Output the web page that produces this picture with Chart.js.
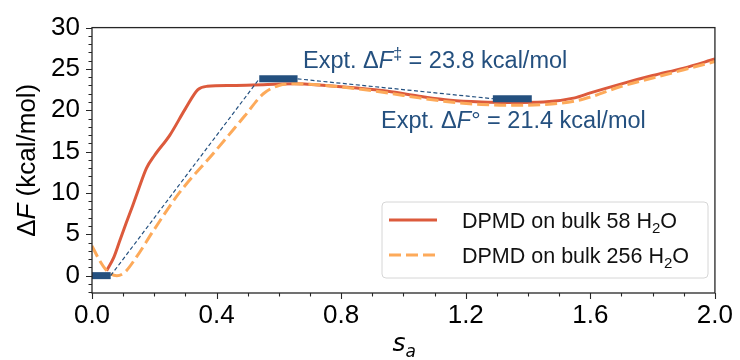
<!DOCTYPE html>
<html>
<head>
<meta charset="utf-8">
<script src="https://cdn.jsdelivr.net/npm/chart.js@4.4.1/dist/chart.umd.min.js"></script>
<style>
  html, body { margin: 0; padding: 0; background: #ffffff; }
  #wrap { width: 740px; height: 360px; position: relative; }
</style>
</head>
<body>
<div id="wrap"><canvas id="c" width="740" height="360"></canvas></div>
<script>
// ---------------- data ----------------
const s58 = [0.047, 0.07, 0.09, 0.11, 0.13, 0.15, 0.175, 0.2, 0.25, 0.30, 0.34, 0.37, 0.45, 0.55, 0.65, 0.75, 0.85, 0.95, 1.05, 1.15, 1.25, 1.35, 1.45, 1.55, 1.6, 1.7, 1.8, 1.9, 2.0];
const f58 = [0.6, 2.2, 4.3, 6.4, 8.4, 10.5, 13.0, 14.5, 17.0, 20.2, 22.5, 22.9, 23.0, 23.1, 23.2, 23.0, 22.7, 22.3, 21.7, 21.2, 21.0, 20.95, 21.0, 21.5, 22.1, 23.2, 24.2, 25.1, 26.2];

const s256 = [0.0, 0.025, 0.05, 0.08, 0.105, 0.14, 0.2, 0.28, 0.39, 0.49, 0.55, 0.6, 0.65, 0.75, 0.85, 0.95, 1.05, 1.15, 1.25, 1.35, 1.45, 1.55, 1.6, 1.7, 1.8, 1.9, 2.0];
const f256 = [3.6, 1.8, 0.5, 0.0, 0.4, 2.1, 5.6, 10.0, 14.8, 19.3, 22.0, 23.0, 23.2, 23.0, 22.6, 22.1, 21.5, 21.0, 20.7, 20.6, 20.7, 21.1, 21.6, 22.9, 23.9, 24.9, 25.9];

const exptLevel = [0, 23.8, 21.4];
const exptStart = [0.0, 0.537, 1.287];
const exptEnd   = [0.06, 0.66, 1.412];

const seriesLabels = ["DPMD on bulk 58 H", "DPMD on bulk 256 H"];
const xTickValues = [0.0, 0.4, 0.8, 1.2, 1.6, 2.0];
const yTickValues = [0, 5, 10, 15, 20, 25, 30];
const annoBarrier = { value: "23.8", unit: " kcal/mol" };
const annoReaction = { value: "21.4", unit: " kcal/mol" };

// ---------------- styles ----------------
const C58 = "#dc5a3c";
const C256 = "#fdaa5a";
const CBLUE = "#24507f";
const FONT = "'Liberation Sans', Arial, sans-serif";

const toXY = (xs, ys) => xs.map((x, i) => ({ x: x, y: ys[i] }));

const datasets = [];
datasets.push({ label: seriesLabels[0], data: toXY(s58, f58), borderColor: C58, borderWidth: 3,
  pointRadius: 0, cubicInterpolationMode: 'monotone', fill: false, order: 3 });
datasets.push({ label: seriesLabels[1], data: toXY(s256, f256), borderColor: C256, borderWidth: 3,
  borderDash: [12, 5], pointRadius: 0, cubicInterpolationMode: 'monotone', fill: false, order: 2 });
for (let i = 0; i < exptLevel.length; i++) {
  datasets.push({ label: 'expt' + i, data: [{ x: exptStart[i], y: exptLevel[i] }, { x: exptEnd[i], y: exptLevel[i] }],
    borderColor: CBLUE, borderWidth: 7, borderCapStyle: 'butt', pointRadius: 0, fill: false, order: 0, clip: false });
}
for (let i = 0; i < exptLevel.length - 1; i++) {
  datasets.push({ label: 'link' + i, data: [{ x: exptEnd[i], y: exptLevel[i] }, { x: exptStart[i + 1], y: exptLevel[i + 1] }],
    borderColor: CBLUE, borderWidth: 1.2, borderDash: [4, 2.5], pointRadius: 0, fill: false, order: 1 });
}

function drawMixed(ctx, parts, x, y) {
  let cx = x;
  for (const p of parts) {
    ctx.font = p.font;
    ctx.fillText(p.t, cx, y + (p.dy || 0));
    cx += ctx.measureText(p.t).width;
  }
  return cx;
}

const decor = {
  id: 'decor',
  afterDatasetsDraw(chart) {
    const ctx = chart.ctx;
    const a = chart.chartArea;
    const xs = chart.scales.x, ys = chart.scales.y;
    ctx.save();
    // frame
    ctx.strokeStyle = '#262626';
    ctx.lineWidth = 1.3;
    ctx.strokeRect(a.left, a.top, a.right - a.left, a.bottom - a.top);
    // ticks
    ctx.beginPath();
    for (let v = 0; v <= 20; v++) {
      const px = Math.round(xs.getPixelForValue(v / 10)) + 0.5;
      const len = (v % 4 === 0) ? 6 : 3.5;
      ctx.moveTo(px, a.bottom); ctx.lineTo(px, a.bottom + len);
    }
    for (let v = -2; v <= 30; v++) {
      const py = Math.round(ys.getPixelForValue(v)) + 0.5;
      const len = (v % 5 === 0) ? 6 : 3.5;
      ctx.moveTo(a.left, py); ctx.lineTo(a.left - len, py);
    }
    ctx.lineWidth = 1.1;
    ctx.stroke();

    // annotations
    ctx.fillStyle = CBLUE;
    ctx.textBaseline = 'alphabetic';
    const nf = "23.5px " + FONT, itf = "italic 23.5px " + FONT, sf = "16px " + FONT;
    drawMixed(ctx, [
      { t: "Expt. \u0394", font: nf }, { t: "F", font: itf }, { t: "\u2021", font: sf, dy: -9 },
      { t: " = " + annoBarrier.value + annoBarrier.unit, font: nf }
    ], 303, 68);
    drawMixed(ctx, [
      { t: "Expt. \u0394", font: nf }, { t: "F", font: itf }, { t: "\u00b0", font: nf },
      { t: " = " + annoReaction.value + annoReaction.unit, font: nf }
    ], 381, 128);

    // legend
    const lx = 382, ly = 202, lw = 326, lh = 76, r = 4;
    ctx.beginPath();
    ctx.moveTo(lx + r, ly); ctx.lineTo(lx + lw - r, ly); ctx.arcTo(lx + lw, ly, lx + lw, ly + r, r);
    ctx.lineTo(lx + lw, ly + lh - r); ctx.arcTo(lx + lw, ly + lh, lx + lw - r, ly + lh, r);
    ctx.lineTo(lx + r, ly + lh); ctx.arcTo(lx, ly + lh, lx, ly + lh - r, r);
    ctx.lineTo(lx, ly + r); ctx.arcTo(lx, ly, lx + r, ly, r);
    ctx.closePath();
    ctx.fillStyle = 'rgba(255,255,255,0.8)';
    ctx.fill();
    ctx.strokeStyle = '#d6d6d6';
    ctx.lineWidth = 1;
    ctx.stroke();
    const rows = [{ y: 220, color: C58, dash: [] }, { y: 255, color: C256, dash: [12, 5] }];
    rows.forEach((row, i) => {
      ctx.beginPath();
      ctx.setLineDash(row.dash);
      ctx.strokeStyle = row.color;
      ctx.lineWidth = 3;
      ctx.moveTo(389, row.y); ctx.lineTo(437, row.y);
      ctx.stroke();
      ctx.setLineDash([]);
      ctx.fillStyle = '#111111';
      drawMixed(ctx, [
        { t: seriesLabels[i], font: "21.5px " + FONT }, { t: "2", font: "15px " + FONT, dy: 5 },
        { t: "O", font: "21.5px " + FONT }
      ], 462, row.y + 8);
    });

    // axis titles
    ctx.fillStyle = '#000000';
    ctx.font = "italic 25px 'DejaVu Sans', sans-serif";
    const sw = ctx.measureText("s").width;
    const sx = (a.left + a.right) / 2 - 11;
    ctx.fillText("s", sx, 351);
    ctx.font = "italic 17px 'DejaVu Sans', sans-serif";
    ctx.fillText("a", sx + sw, 357);

    ctx.save();
    ctx.translate(35, (a.top + a.bottom) / 2);
    ctx.rotate(-Math.PI / 2);
    const parts = [{ t: "\u0394", font: "26px " + FONT }, { t: "F", font: "italic 26px " + FONT },
                   { t: " (kcal/mol)", font: "26px " + FONT }];
    let tw = 0;
    parts.forEach(p => { ctx.font = p.font; tw += ctx.measureText(p.t).width; });
    drawMixed(ctx, parts, -tw / 2, 0);
    ctx.restore();

    ctx.restore();
  }
};

new Chart(document.getElementById('c'), {
  type: 'line',
  data: { datasets: datasets },
  options: {
    responsive: false,
    devicePixelRatio: 1,
    animation: false,
    layout: { padding: { top: 24, right: 20, left: 0, bottom: 0 } },
    plugins: { legend: { display: false }, tooltip: { enabled: false } },
    scales: {
      x: {
        type: 'linear', min: 0, max: 2,
        afterBuildTicks: s => { s.ticks = xTickValues.map(v => ({ value: v })); },
        afterFit: s => { s.height = 67; },
        grid: { display: false, drawTicks: false },
        border: { display: false },
        ticks: { font: { family: FONT, size: 26 }, color: '#000', padding: 7, maxRotation: 0, autoSkip: false,
                 callback: v => Number(v).toFixed(1) }
      },
      y: {
        type: 'linear', min: -2.1, max: 30,
        afterBuildTicks: s => { s.ticks = yTickValues.map(v => ({ value: v })); },
        afterFit: s => { s.width = 92; },
        grid: { display: false, drawTicks: false },
        border: { display: false },
        ticks: { font: { family: FONT, size: 26 }, color: '#000', padding: 12, autoSkip: false,
                 callback: v => String(v) }
      }
    }
  },
  plugins: [decor]
});
</script>
</body>
</html>
